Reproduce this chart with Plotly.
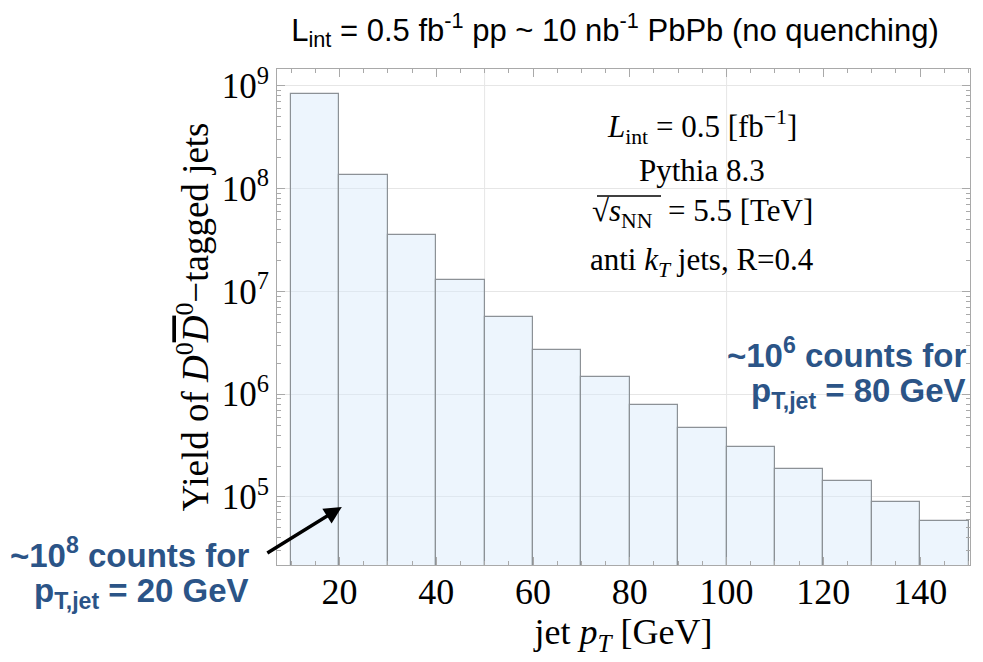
import plotly.graph_objects as go

bin_left = [10, 20, 30, 40, 50, 60, 70, 80, 90, 100, 110, 120, 130, 140]
bin_width = 10
yields = [8.36e8, 1.37e8, 3.57e7, 1.29e7, 5.68e6, 2.72e6, 1.46e6,
          7.94e5, 4.72e5, 3.09e5, 1.88e5, 1.43e5, 8.88e4, 5.88e4]
x_ticks = [20, 40, 60, 80, 100, 120, 140]
y_ticks = [1e5, 1e6, 1e7, 1e8, 1e9]
y_tick_text = ["10<sup>5</sup>", "10<sup>6</sup>", "10<sup>7</sup>", "10<sup>8</sup>", "10<sup>9</sup>"]

centers = [b + bin_width / 2 for b in bin_left]
minor_y = [m * 10.0 ** k for k in range(4, 10) for m in range(2, 10)]

SERIF = "Liberation Serif, Times New Roman, serif"
SANS = "Liberation Sans, Arial, sans-serif"
BLUE = "#2b5487"
FRAME = "#a9a9a9"
GRID = "#e6e6e6"

W, H = 983, 662
ML, MR, MT, MB = 277, 13, 69, 97

fig = go.Figure()
fig.add_trace(go.Bar(
    x=centers, y=yields, width=bin_width,
    marker=dict(color="rgba(214,232,250,0.45)", line=dict(color="#8c9196", width=1.2)),
    showlegend=False,
))

fig.update_layout(
    width=W, height=H,
    margin=dict(l=ML, r=MR, t=MT, b=MB),
    plot_bgcolor="white", paper_bgcolor="white",
    bargap=0,
    title=dict(
        text="L<sub>int</sub> = 0.5 fb<sup>-1</sup> pp ~ 10 nb<sup>-1</sup> PbPb (no quenching)",
        x=615 / W, xanchor="center", y=1 - 30 / H, yanchor="middle",
        font=dict(family=SANS, size=31, color="black"),
    ),
)

fig.update_xaxes(
    range=[7.1, 150.3],
    tickvals=x_ticks, ticks="inside", ticklen=8, tickcolor=FRAME, tickwidth=1,
    minor=dict(dtick=5, tick0=0, ticks="inside", ticklen=4, tickcolor=FRAME, showgrid=False),
    showline=True, linecolor=FRAME, linewidth=1, mirror="ticks",
    showgrid=False,
    tickfont=dict(family=SERIF, size=36, color="black"),
    ticklabelstandoff=-5,
    title=dict(text="jet <i>p</i><sub><i>T</i></sub> [GeV]",
               font=dict(family=SERIF, size=36, color="black"), standoff=4),
    zeroline=False,
)

fig.update_yaxes(
    type="log", range=[4.338, 9.165],
    tickvals=y_ticks, ticktext=y_tick_text,
    ticks="inside", ticklen=8, tickcolor=FRAME, tickwidth=1,
    minor=dict(tickvals=minor_y, ticks="inside", ticklen=4, tickcolor=FRAME, showgrid=False),
    showline=True, linecolor=FRAME, linewidth=1, mirror="ticks",
    showgrid=True, gridcolor=GRID, gridwidth=1,
    tickfont=dict(family=SERIF, size=35, color="black"),
    title=dict(text="Yield of <i>D</i><sup>0</sup><span style='text-decoration:overline'><i>D</i></span><sup>0</sup>\u2212tagged jets",
               font=dict(family=SERIF, size=37, color="black"), standoff=1),
    zeroline=False,
)

# vertical grid lines at 50 and 100 (as in reference)
for gx in [50, 100]:
    fig.add_shape(type="line", xref="x", yref="paper", x0=gx, x1=gx, y0=0, y1=1,
                  line=dict(color=GRID, width=1), layer="below")

def px_to_paper(px, py):
    return (px - ML) / (W - ML - MR), (H - MB - py) / (H - MT - MB)

inset = [
    ("<i>L</i><sub>int</sub> = 0.5 [fb<sup>\u22121</sup>]", 127),
    ("Pythia 8.3", 170),
    ("\u221a<i>s</i><sub>NN</sub>  = 5.5 [TeV]", 213),
    ("anti <i>k</i><sub><i>T</i></sub> jets, R=0.4", 262),
]
for txt, py in inset:
    xx, yy = px_to_paper(702, py)
    fig.add_annotation(text=txt, xref="paper", yref="paper", x=xx, y=yy,
                       xanchor="center", yanchor="middle", showarrow=False,
                       font=dict(family=SERIF, size=31, color="black"))

# overline of the square root
x0p, y0p = px_to_paper(597, 196)
x1p, _ = px_to_paper(661, 196)
fig.add_shape(type="line", xref="paper", yref="paper", x0=x0p, x1=x1p, y0=y0p, y1=y0p,
              line=dict(color="black", width=1.3))

for txt, (px, py) in [("~10<sup>6</sup> counts for", (968, 353)),
                      ("p<sub>T,jet</sub> = 80 GeV", (968, 393)),
                      ("~10<sup>8</sup> counts for", (251, 553)),
                      ("p<sub>T,jet</sub> = 20 GeV", (251, 593))]:
    xx, yy = px_to_paper(px, py)
    fig.add_annotation(text="<b>" + txt + "</b>", xref="paper", yref="paper", x=xx, y=yy,
                       xanchor="right", yanchor="middle", showarrow=False,
                       font=dict(family=SANS, size=33, color=BLUE))

# arrow
fig.add_annotation(x=20.5, y=4.903, xref="x", yref="y", text="", showarrow=True,
                   ax=-76, ay=47, arrowhead=2, arrowsize=1.0, arrowwidth=3.5,
                   arrowcolor="black", standoff=0)

fig.write_html("out.html", config={"displayModeBar": False},
               post_script="document.body.style.margin='0';")
